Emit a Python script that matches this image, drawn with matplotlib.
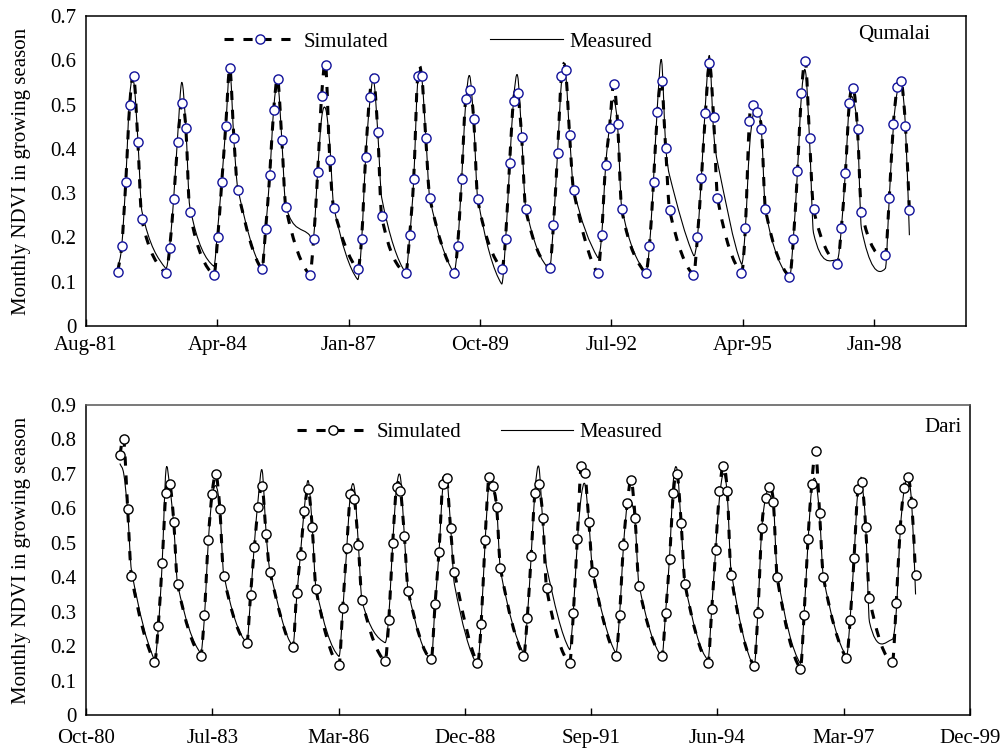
#NDVI growing season chart - simulated vs measured, Qumalai and Dari
import datetime as dt
import numpy as np
import matplotlib
matplotlib.use('Agg')
import matplotlib.pyplot as plt
import matplotlib.dates as mdates
from matplotlib.path import Path
from matplotlib.patches import PathPatch
from matplotlib.lines import Line2D

plt.rcParams['font.family'] = ['Liberation Serif', 'DejaVu Serif']
plt.rcParams['font.size'] = 15

# growing season months (Apr - Oct) and years
season_months = [4, 5, 6, 7, 8, 9, 10]
years = list(range(1982, 1999))
dari_first_months = [7, 8, 9, 10]  # Dari starts Jul-81

# Qumalai, Apr-Oct of 1982..1998
qumalai_sim = [
    0.123, 0.181, 0.326, 0.500, 0.565, 0.415, 0.241,
    0.119, 0.176, 0.286, 0.415, 0.504, 0.448, 0.257,
    0.115, 0.200, 0.326, 0.452, 0.582, 0.424, 0.306,
    0.128, 0.220, 0.342, 0.488, 0.557, 0.420, 0.269,
    0.115, 0.196, 0.347, 0.520, 0.589, 0.375, 0.266,
    0.128, 0.196, 0.382, 0.516, 0.561, 0.439, 0.248,
    0.119, 0.205, 0.333, 0.564, 0.564, 0.424, 0.290,
    0.119, 0.181, 0.333, 0.512, 0.533, 0.467, 0.286,
    0.128, 0.196, 0.367, 0.509, 0.525, 0.427, 0.264,
    0.132, 0.228, 0.391, 0.564, 0.578, 0.431, 0.306,
    0.119, 0.205, 0.364, 0.448, 0.546, 0.456, 0.264,
    0.119, 0.181, 0.326, 0.484, 0.553, 0.403, 0.262,
    0.115, 0.200, 0.335, 0.480, 0.593, 0.473, 0.290,
    0.120, 0.221, 0.464, 0.500, 0.484, 0.444, 0.264,
    0.111, 0.196, 0.350, 0.525, 0.598, 0.424, 0.264,
    0.140, 0.221, 0.346, 0.504, 0.537, 0.444, 0.258,
    0.160, 0.290, 0.456, 0.540, 0.553, 0.452, 0.262,
]
qumalai_meas = [
    0.130, 0.180, 0.330, 0.520, 0.550, 0.420, 0.260,
    0.130, 0.180, 0.290, 0.430, 0.550, 0.450, 0.270,
    0.135, 0.220, 0.330, 0.450, 0.580, 0.420, 0.310,
    0.130, 0.220, 0.340, 0.490, 0.550, 0.420, 0.270,
    0.205, 0.200, 0.350, 0.470, 0.490, 0.410, 0.270,
    0.105, 0.190, 0.380, 0.500, 0.555, 0.440, 0.290,
    0.120, 0.200, 0.330, 0.550, 0.560, 0.430, 0.290,
    0.120, 0.180, 0.330, 0.500, 0.565, 0.460, 0.290,
    0.095, 0.190, 0.360, 0.510, 0.565, 0.430, 0.270,
    0.130, 0.230, 0.390, 0.550, 0.570, 0.430, 0.310,
    0.155, 0.200, 0.360, 0.450, 0.510, 0.450, 0.270,
    0.120, 0.180, 0.330, 0.500, 0.600, 0.410, 0.340,
    0.160, 0.200, 0.340, 0.500, 0.610, 0.440, 0.370,
    0.140, 0.220, 0.400, 0.480, 0.490, 0.440, 0.260,
    0.110, 0.200, 0.350, 0.520, 0.575, 0.420, 0.210,
    0.150, 0.220, 0.350, 0.500, 0.510, 0.440, 0.220,
    0.130, 0.290, 0.450, 0.530, 0.550, 0.450, 0.205,
]

# Dari, Jul-Oct 1981 then Apr-Oct of 1982..1998
dari_sim = [
    0.755, 0.800, 0.598, 0.405,
    0.155, 0.259, 0.442, 0.645, 0.671, 0.561, 0.379,
    0.171, 0.290, 0.508, 0.641, 0.699, 0.598, 0.405,
    0.208, 0.348, 0.489, 0.605, 0.665, 0.526, 0.416,
    0.198, 0.355, 0.465, 0.593, 0.655, 0.547, 0.365,
    0.145, 0.312, 0.484, 0.641, 0.626, 0.495, 0.334,
    0.157, 0.276, 0.500, 0.661, 0.650, 0.521, 0.360,
    0.162, 0.322, 0.474, 0.671, 0.687, 0.542, 0.416,
    0.150, 0.264, 0.508, 0.692, 0.665, 0.603, 0.426,
    0.171, 0.281, 0.463, 0.645, 0.671, 0.573, 0.368,
    0.150, 0.295, 0.510, 0.723, 0.702, 0.561, 0.416,
    0.171, 0.290, 0.495, 0.615, 0.682, 0.573, 0.375,
    0.171, 0.297, 0.453, 0.645, 0.699, 0.556, 0.380,
    0.152, 0.307, 0.479, 0.650, 0.723, 0.650, 0.406,
    0.143, 0.295, 0.542, 0.631, 0.661, 0.619, 0.400,
    0.135, 0.290, 0.510, 0.671, 0.766, 0.587, 0.400,
    0.165, 0.276, 0.457, 0.655, 0.677, 0.547, 0.339,
    0.155, 0.324, 0.540, 0.658, 0.692, 0.615, 0.406,
]
dari_meas = [
    0.730, 0.700, 0.590, 0.420,
    0.160, 0.250, 0.440, 0.710, 0.660, 0.550, 0.380,
    0.180, 0.280, 0.500, 0.630, 0.665, 0.600, 0.410,
    0.210, 0.340, 0.500, 0.630, 0.710, 0.530, 0.420,
    0.200, 0.340, 0.470, 0.600, 0.680, 0.550, 0.370,
    0.170, 0.300, 0.480, 0.640, 0.660, 0.500, 0.330,
    0.210, 0.290, 0.500, 0.660, 0.690, 0.520, 0.360,
    0.160, 0.320, 0.470, 0.660, 0.690, 0.550, 0.380,
    0.145, 0.270, 0.500, 0.670, 0.660, 0.600, 0.420,
    0.180, 0.280, 0.460, 0.650, 0.720, 0.560, 0.430,
    0.190, 0.300, 0.500, 0.630, 0.670, 0.560, 0.420,
    0.180, 0.290, 0.490, 0.610, 0.620, 0.560, 0.380,
    0.170, 0.300, 0.460, 0.680, 0.710, 0.550, 0.380,
    0.160, 0.310, 0.480, 0.630, 0.700, 0.640, 0.420,
    0.140, 0.300, 0.540, 0.630, 0.660, 0.620, 0.410,
    0.150, 0.290, 0.500, 0.660, 0.680, 0.580, 0.400,
    0.170, 0.280, 0.460, 0.650, 0.670, 0.550, 0.270,
    0.220, 0.300, 0.530, 0.650, 0.690, 0.610, 0.350,
]

# x axis (excel style date axis, major unit 1000 days)
qumalai_ticklabels = ['Aug-81', 'Apr-84', 'Jan-87', 'Oct-89', 'Jul-92', 'Apr-95', 'Jan-98']
dari_ticklabels = ['Oct-80', 'Jul-83', 'Mar-86', 'Dec-88', 'Sep-91', 'Jun-94', 'Mar-97', 'Dec-99']

# dates of the monthly points
qumalai_dates = [dt.datetime(y, m, 1) for y in years for m in season_months]
dari_dates = [dt.datetime(1981, m, 1) for m in dari_first_months] + \
             [dt.datetime(y, m, 1) for y in years for m in season_months]


def smooth_path(x, y):
    # excel-like smoothed line, cubic bezier segments through every point
    x = np.asarray(x, float)
    y = np.asarray(y, float)
    n = len(x)
    slope = np.zeros(n)
    for i in range(n):
        a = max(i - 1, 0)
        b = min(i + 1, n - 1)
        slope[i] = (y[b] - y[a]) / (x[b] - x[a])
    verts = [(x[0], y[0])]
    codes = [Path.MOVETO]
    for i in range(n - 1):
        h = (x[i + 1] - x[i]) / 3.0
        verts += [(x[i] + h, y[i] + h * slope[i]),
                  (x[i + 1] - h, y[i + 1] - h * slope[i + 1]),
                  (x[i + 1], y[i + 1])]
        codes += [Path.CURVE4] * 3
    return Path(verts, codes)


W, H = 1007, 749
fig = plt.figure(figsize=(W / 100, H / 100), dpi=100)
ax1 = fig.add_axes([86 / W, 1 - 326 / H, 880 / W, 310 / H])
ax2 = fig.add_axes([86 / W, 1 - 715 / H, 884 / W, 310 / H])

sim_dash = (0, (3, 3.2))
navy = '#12129a'

panels = [
    (ax1, qumalai_dates, qumalai_sim, qumalai_meas, navy, dt.datetime(1981, 8, 2), qumalai_ticklabels,
     0.7, 'Qumalai', (930, 35), (224, 42), 4.9, 7.5),
    (ax2, dari_dates, dari_sim, dari_meas, 'black', dt.datetime(1980, 10, 6), dari_ticklabels,
     0.9, 'Dari', (962, 428), (297, 432), 1.9, 10),
]

for ax, dates, sim, meas, mcol, start, ticklabels, ymax, name, name_pos, leg_pos, colsp, xpad in panels:
    xs = mdates.date2num(dates)
    l, b, w, h = ax.get_position().bounds

    # measured - thin solid smoothed line
    ax.add_patch(PathPatch(smooth_path(xs, meas), fill=False, edgecolor='black', lw=0.8, zorder=2))
    # simulated - thick dashed smoothed line with circle markers
    ax.add_patch(PathPatch(smooth_path(xs, sim), fill=False, edgecolor='black', lw=2.2,
                           linestyle=sim_dash, capstyle='butt', zorder=3))
    ax.plot(xs, sim, linestyle='none', marker='o', ms=6.6, mfc='white', mec=mcol, mew=1.0, zorder=4)

    # axes
    end = dt.datetime(1999, 12, 6)
    ax.set_xlim(mdates.date2num(start), mdates.date2num(end))
    ticks = [mdates.date2num(start + dt.timedelta(days=1000 * k)) for k in range(len(ticklabels))]
    ax.set_xticks(ticks)
    ax.set_xticklabels(ticklabels)
    ax.set_ylim(0, ymax)
    yt = np.round(np.arange(0, ymax + 0.001, 0.1), 1)
    ax.set_yticks(yt)
    ax.set_yticklabels(['0'] + ['%.1f' % v for v in yt[1:]])
    ax.tick_params(axis='x', direction='in', length=5, width=1, pad=xpad)
    ax.tick_params(axis='y', length=0, pad=7)
    for s in ax.spines.values():
        s.set_linewidth(1.1)
    ax.set_ylabel('Monthly NDVI in growing season')
    ax.yaxis.set_label_coords((31 - 86) / (w * W), 0.5)

    # site name
    ax.text((name_pos[0] / W - l) / w, (1 - name_pos[1] / H - b) / h, name,
            transform=ax.transAxes, ha='right', va='center')

    # legend
    handles = [Line2D([0], [0], color='black', lw=2.2, linestyle=sim_dash, dash_capstyle='butt',
                      marker='o', ms=6.6, mfc='white', mec=mcol, mew=1.0),
               Line2D([0], [0], color='black', lw=0.8)]
    ax.legend(handles, ['Simulated', 'Measured'], ncol=2, frameon=False, loc='center left',
              bbox_to_anchor=((leg_pos[0] / W - l) / w, (1 - leg_pos[1] / H - b) / h),
              borderpad=0, borderaxespad=0, handlelength=3.5, handletextpad=0.3,
              columnspacing=colsp, numpoints=1)

ax2.spines['top'].set_color('#555555')

fig.savefig('out.png', dpi=100)
